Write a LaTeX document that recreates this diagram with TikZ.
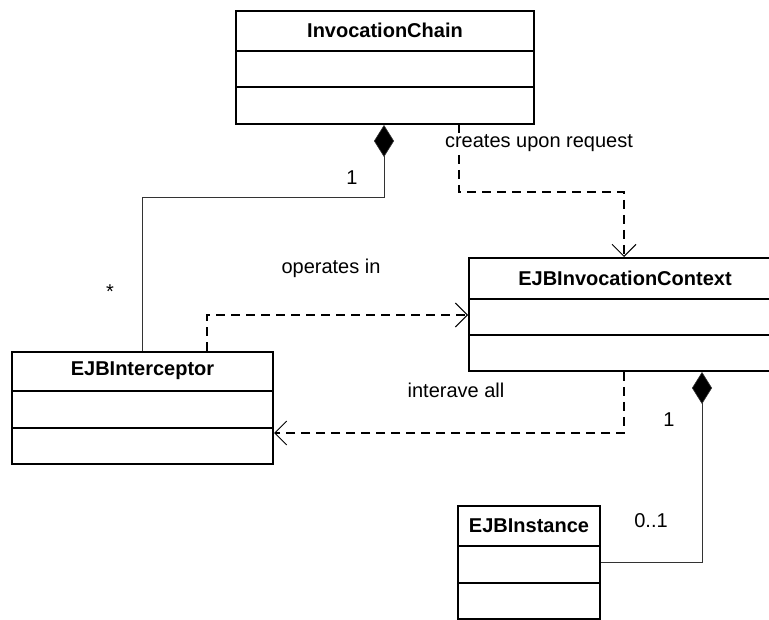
\documentclass[tikz,border=0pt]{standalone}
\usepackage{fontspec}
\setmainfont{Liberation Sans}
\usetikzlibrary{arrows.meta}

\begin{document}
\begin{tikzpicture}[x=1pt,y=-1pt,
  classbox/.style={draw, line width=2pt, rectangle, anchor=north west, inner sep=0pt},
  classname/.style={font=\fontsize{20}{24}\selectfont\bfseries, inner sep=0pt},
  divider/.style={line width=2pt},
  lbl/.style={font=\fontsize{20}{24}\selectfont, inner sep=0pt},
  assoc/.style={line width=1pt, draw=black!80},
  comp/.style={assoc, -{Diamond[length=32pt,width=20pt,fill=black,line width=0.6pt]}},
  dep/.style={line width=2pt, dash pattern=on 9pt off 6pt,
              -{Straight Barb[length=12pt,width=24pt,line width=1pt]}}]

\useasboundingbox (0,0) rectangle (769,620);

% classes
\node[classbox, minimum width=298pt, minimum height=113pt] (chain) at (235,10) {};
\node[classname] at ([yshift=-20.5pt]chain.north) {InvocationChain};
\draw[divider] ([yshift=-41pt]chain.north west) -- ([yshift=-41pt]chain.north east);
\draw[divider] ([yshift=-77pt]chain.north west) -- ([yshift=-77pt]chain.north east);

\node[classbox, minimum width=312pt, minimum height=113pt] (ctx) at (468,257) {};
\node[classname] at ([yshift=-21pt]ctx.north) {EJBInvocationContext};
\draw[divider] ([yshift=-42pt]ctx.north west) -- ([yshift=-42pt]ctx.north east);
\draw[divider] ([yshift=-78pt]ctx.north west) -- ([yshift=-78pt]ctx.north east);

\node[classbox, minimum width=261pt, minimum height=112pt] (icp) at (11,351) {};
\node[classname] at ([yshift=-20pt]icp.north) {EJBInterceptor};
\draw[divider] ([yshift=-40pt]icp.north west) -- ([yshift=-40pt]icp.north east);
\draw[divider] ([yshift=-77pt]icp.north west) -- ([yshift=-77pt]icp.north east);

\node[classbox, minimum width=142pt, minimum height=113pt] (inst) at (457,505) {};
\node[classname] at ([yshift=-20.5pt]inst.north) {EJBInstance};
\draw[divider] ([yshift=-41pt]inst.north west) -- ([yshift=-41pt]inst.north east);
\draw[divider] ([yshift=-78pt]inst.north west) -- ([yshift=-78pt]inst.north east);

% compositions
\draw[comp] ([xshift=131pt]icp.north west) -- ++(0,-153) -| ([xshift=149pt]chain.south west);
\draw[comp] ([yshift=-57pt]inst.north east) -| ([xshift=234pt]ctx.south west);

% dependencies
\draw[dep] ([xshift=224pt]chain.south west) -- ++(0,67) -| ([xshift=156pt]ctx.north west);
\draw[dep] ([xshift=196pt]icp.north west) |- ([yshift=-58pt]ctx.north west);
\draw[dep] ([xshift=156pt]ctx.south west) |- ([yshift=-82pt]icp.north east);

% labels
\node[lbl] (m1) at (352,178) {1};
\node[lbl] (m2) at (110,292) {*};
\node[lbl] (m3) at (669,420) {1};
\node[lbl] (m4) at (651,521) {0..1};
\node[lbl, fill=white, inner sep=1pt] (l1) at (539,143) {creates upon request};
\node[lbl] (l2) at (331,268) {operates in};
\node[lbl] (l3) at (456,390) {interave all};

\end{tikzpicture}
\end{document}
